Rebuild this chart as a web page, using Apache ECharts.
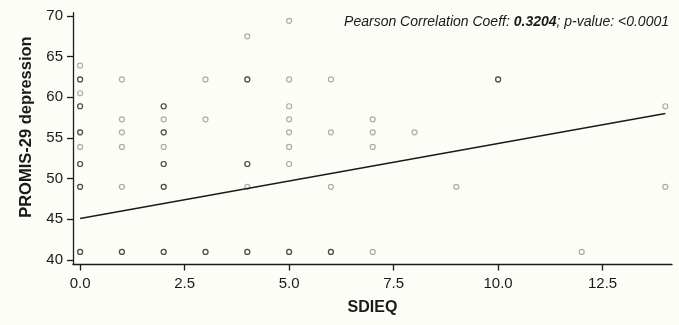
<!DOCTYPE html>
<html>
<head>
<meta charset="utf-8">
<title>SDIEQ vs PROMIS-29 depression</title>
<script src="https://cdn.jsdelivr.net/npm/echarts@6/dist/echarts.min.js"></script>
<style>
  html, body { margin: 0; padding: 0; background: #fdfdf8; }
  #chart { width: 679px; height: 325px; }
</style>
</head>
<body>
<div id="chart"></div>
<script>
// one entry per plotted circle; count = how many people share that spot
const sdieq = [
  0, 0, 0, 0, 0, 0, 0, 0, 0,
  1, 1, 1, 1, 1, 1,
  2, 2, 2, 2, 2, 2, 2,
  3, 3, 3,
  4, 4, 4, 4, 4,
  5, 5, 5, 5, 5, 5, 5, 5,
  6, 6, 6, 6,
  7, 7, 7, 7,
  8, 9, 10, 12, 14, 14
]
const promis = [
  63.9, 62.2, 60.5, 58.9, 55.7, 53.9, 51.8, 49.0, 41.0,
  62.2, 57.3, 55.7, 53.9, 49.0, 41.0,
  58.9, 57.3, 55.7, 53.9, 51.8, 49.0, 41.0,
  62.2, 57.3, 41.0,
  67.5, 62.2, 51.8, 49.0, 41.0,
  69.4, 62.2, 58.9, 57.3, 55.7, 53.9, 51.8, 41.0,
  62.2, 55.7, 49.0, 41.0,
  57.3, 55.7, 53.9, 41.0,
  55.7, 49.0, 62.2, 41.0, 58.9, 49.0
]
const counts = [
  1, 3, 1, 3, 3, 1, 3, 3, 3,
  1, 1, 1, 1, 1, 3,
  3, 1, 3, 1, 3, 3, 3,
  1, 1, 3,
  1, 3, 3, 1, 3,
  1, 1, 1, 1, 1, 1, 1, 3,
  1, 1, 1, 3,
  1, 1, 1, 1,
  1, 1, 3, 1, 1, 1
]

// fitted regression line, read at both ends
const fitX = [0, 14]
const fitY = [45.1, 58.0]

const xTicks = [0, 2.5, 5, 7.5, 10, 12.5]
const yTicks = [40, 45, 50, 55, 60, 65, 70]

const pearson = '0.3204'
const pValue = '<0.0001'

const scatterData = []
sdieq.forEach((x, i) => {
  for (let k = 0; k < counts[i]; k++) {
    scatterData.push([x, promis[i]])
  }
})

const chart = echarts.init(document.getElementById('chart'))
const font = '"Liberation Sans", Arial, Helvetica, sans-serif'
const ink = '#1a1a1a'

chart.setOption({
  backgroundColor: '#fdfdf8',
  animation: false,
  textStyle: { fontFamily: font },
  title: {
    text: '{i|Pearson Correlation Coeff: }{b|' + pearson + '}{i|; p-value: ' + pValue + '}',
    right: 5,
    top: 10,
    textStyle: {
      fontWeight: 'normal',
      rich: {
        i: { fontFamily: font, fontStyle: 'italic', fontWeight: 'normal', fontSize: 14, color: ink },
        b: { fontFamily: font, fontStyle: 'italic', fontWeight: 'bold', fontSize: 14, color: ink }
      }
    }
  },
  grid: {
    left: 73,
    right: 7,
    top: 12.7,
    bottom: 60.5,
    containLabel: false
  },
  xAxis: {
    type: 'value',
    min: -0.17,
    max: 14.16,
    name: 'SDIEQ',
    nameLocation: 'middle',
    nameGap: 35,
    nameTextStyle: { fontFamily: font, fontWeight: 'bold', fontSize: 16, color: ink },
    splitLine: { show: false },
    axisLine: { onZero: false, lineStyle: { color: ink, width: 1.3 } },
    axisTick: { customValues: xTicks, length: 6, lineStyle: { color: ink, width: 1.3 } },
    axisLabel: {
      customValues: xTicks,
      margin: 12,
      fontSize: 15,
      color: ink,
      formatter: v => Number(v).toFixed(1)
    }
  },
  yAxis: {
    type: 'value',
    min: 39.45,
    max: 70.4,
    name: 'PROMIS-29 depression',
    nameLocation: 'middle',
    nameGap: 37,
    nameTextStyle: {
      fontFamily: font,
      fontWeight: 'bold',
      fontSize: 16.5,
      color: ink,
      padding: [0, 0, 0, 23]
    },
    splitLine: { show: false },
    axisLine: { show: true, onZero: false, lineStyle: { color: ink, width: 1.3 } },
    axisTick: { show: true, customValues: yTicks, length: 6, lineStyle: { color: ink, width: 1.3 } },
    axisLabel: { customValues: yTicks, margin: 10, fontSize: 15, color: ink }
  },
  series: [
    {
      type: 'scatter',
      data: scatterData,
      symbol: 'circle',
      symbolSize: 5,
      itemStyle: {
        color: 'rgba(0,0,0,0)',
        borderColor: 'rgba(0,0,0,0.4)',
        borderWidth: 1.2
      },
      emphasis: { disabled: true }
    },
    {
      type: 'line',
      data: fitX.map((x, i) => [x, fitY[i]]),
      showSymbol: false,
      lineStyle: { color: ink, width: 1.5 },
      emphasis: { disabled: true }
    }
  ]
})
</script>
</body>
</html>
